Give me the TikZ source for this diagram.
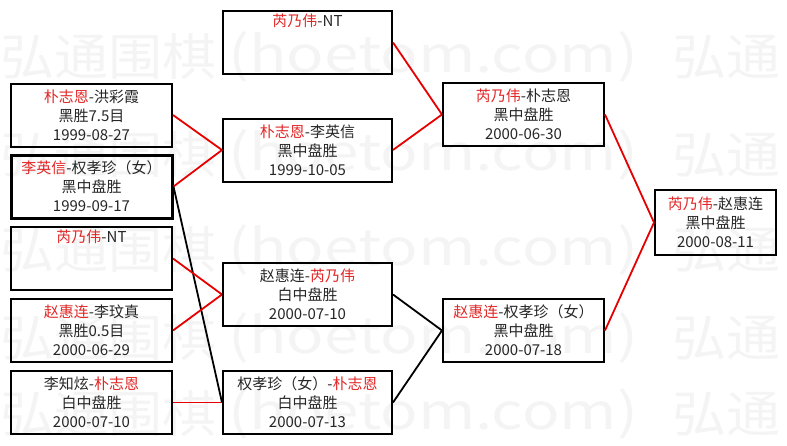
\documentclass[tikz,border=0pt]{standalone}
\usepackage{fontspec}
\setmainfont{Noto Sans CJK SC}
\usetikzlibrary{positioning}

\definecolor{winred}{RGB}{226,38,38}
\definecolor{linkred}{RGB}{230,0,0}
\definecolor{marktext}{RGB}{244,244,244}
\newcommand{\win}[1]{\textcolor{winred}{#1}}

\begin{document}
\begin{tikzpicture}[
    x=1pt, y=-1pt,
    game/.style={
      draw=black, line width=2pt, inner sep=0pt,
      minimum width=161pt, minimum height=63pt,
      align=center, text=black!85,
      font=\fontsize{15}{19}\selectfont,
    },
    wide game/.style={game, minimum width=169pt},
    final game/.style={game, minimum width=121pt, minimum height=65pt},
    win link/.style={draw=linkred, line width=1.8pt},
    loss link/.style={draw=black, line width=1.8pt},
    watermark/.style={text=marktext, inner sep=0pt, anchor=west,
      font=\fontsize{50}{50}\selectfont},
  ]

  %% ---- canvas ----
  \useasboundingbox (0,0) rectangle (787,445);

  %% ---- faint background mark, one row per y ----
  \begin{scope}
    \clip (0,0) rectangle (787,445);
    \foreach \wy in {57,155,250,338,414} {
      \node[watermark, xscale=1.08] (wmA\wy) at (0,\wy)   {弘通围棋};
      \node[watermark, xscale=1.24] (wmB\wy) at (228,\wy) {(hoetom.com)};
      \node[watermark, xscale=1.08] (wmC\wy) at (672,\wy) {弘通};
    }
  \end{scope}

  %% ---- round 1 (x centre 91.5) ----
  \node[game] (a1) at (91.5,115)
    {\win{朴志恩}-洪彩霞\\黑胜7.5目\\1999-08-27};
  \node[game, line width=3pt] (a2) at (91.5,186.5)
    {\win{李英信}-权孝珍（女）\\黑中盘胜\\1999-09-17};
  \node[game] (a3) at (91.5,258.5)
    {\win{芮乃伟}-NT\\\strut\\\strut};
  \node[game] (a4) at (91.5,330.5)
    {\win{赵惠连}-李玟真\\黑胜0.5目\\2000-06-29};
  \node[game] (a5) at (91.5,402.5)
    {李知炫-\win{朴志恩}\\白中盘胜\\2000-07-10};

  %% ---- round 2 (x centre 307.5) ----
  \node[wide game] (b1) at (307.5,42.5)
    {\win{芮乃伟}-NT\\\strut\\\strut};
  \node[wide game] (b2) at (307.5,150)
    {\win{朴志恩}-李英信\\黑中盘胜\\1999-10-05};
  \node[wide game] (b3) at (307.5,294.5)
    {赵惠连-\win{芮乃伟}\\白中盘胜\\2000-07-10};
  \node[wide game] (b4) at (307.5,402.5)
    {权孝珍（女）-\win{朴志恩}\\白中盘胜\\2000-07-13};

  %% ---- semi-finals (x centre 523.5) ----
  \node[game] (c1) at (523.5,114.5)
    {\win{芮乃伟}-朴志恩\\黑中盘胜\\2000-06-30};
  \node[game] (c2) at (523.5,330.5)
    {\win{赵惠连}-权孝珍（女）\\黑中盘胜\\2000-07-18};

  %% ---- final ----
  \node[final game] (d1) at (715.5,222.5)
    {\win{芮乃伟}-赵惠连\\黑中盘胜\\2000-08-11};

  %% ---- links: red = winner goes on, black = other path ----
  \draw[win link]  (a1.east) -- (b2.west);
  \draw[win link]  (a2.east) -- (b2.west);
  \draw[loss link] (a2.east) -- (b4.west);
  \draw[win link]  (a3.east) -- (b3.west);
  \draw[win link]  (a4.east) -- (b3.west);
  \draw[win link]  (a5.east) -- (b4.west);

  \draw[win link]  (b1.east) -- (c1.west);
  \draw[win link]  (b2.east) -- (c1.west);
  \draw[loss link] (b3.east) -- (c2.west);
  \draw[loss link] (b4.east) -- (c2.west);

  \draw[win link]  (c1.east) -- (d1.west);
  \draw[win link]  (c2.east) -- (d1.west);

\end{tikzpicture}
\end{document}
